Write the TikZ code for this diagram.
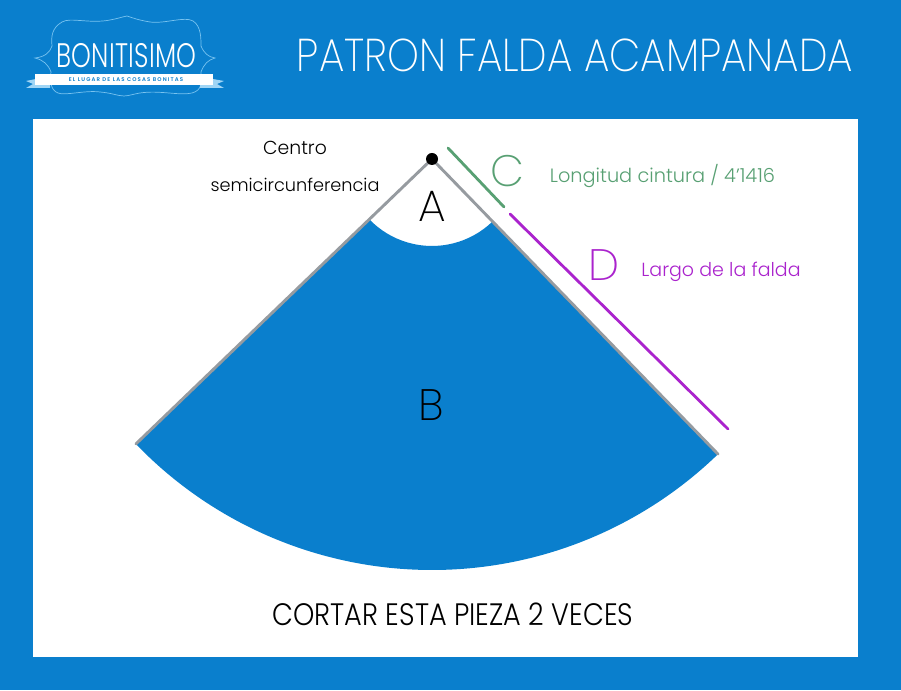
\documentclass[tikz,border=0pt]{standalone}
\usepackage{fontspec}
\usetikzlibrary{calc}
\setmainfont{Poppins Light}
\newfontfamily\thinfont{Poppins ExtraLight}
\newfontfamily\subfont{Poppins SemiBold}
\definecolor{bgblue}{RGB}{10,127,205}
\definecolor{cgreen}{RGB}{88,160,115}
\definecolor{dpurple}{RGB}{170,35,205}
\definecolor{edgegray}{RGB}{150,155,160}
\definecolor{framelt}{RGB}{120,195,240}
\tikzset{
  lbl/.style={inner sep=0pt,text=black},
  tall/.style={inner sep=0pt,xscale=#1,transform shape},
  pedge/.style={draw=edgegray,line width=2.9pt,line cap=round},
  measure/.style={line width=2.8pt,line cap=round},
}
\begin{document}
\begin{tikzpicture}[x=1pt,y=1pt]
\useasboundingbox (0,0) rectangle (901,690);
\fill[bgblue] (0,0) rectangle (901,690);
\fill[white] (33,33) rectangle (858,571);
% logo
\begin{scope}[y=-1pt,yshift=690pt]
\draw[framelt,line width=0.7pt]
  (35,58) .. controls (44,57) and (50,53) .. (52,46)
  .. controls (51,36) and (52,28) .. (62,22)
  .. controls (70,17) and (90,24) .. (110,20)
  .. controls (116,19) and (122,17) .. (127,16)
  .. controls (133,18) and (138,20) .. (150,22)
  .. controls (165,24) and (185,16) .. (193,21)
  .. controls (201,26) and (201,38) .. (201,46)
  .. controls (204,53) and (208,57) .. (215,58)
  .. controls (208,60) and (204,64) .. (201,72)
  .. controls (201,82) and (203,90) .. (192,93)
  .. controls (180,96) and (160,90) .. (140,93)
  .. controls (134,94) and (128,96) .. (124,96)
  .. controls (118,96) and (112,93) .. (100,92)
  .. controls (85,90) and (65,96) .. (58,93)
  .. controls (50,90) and (50,80) .. (51,72)
  .. controls (48,64) and (43,60) .. (35,58) -- cycle;
\fill[framelt!70!white] (26,81) -- (36,79) -- (50,79) -- (50,88) -- (26,88) -- (33,84) -- cycle;
\fill[framelt!70!white] (224,81) -- (213,79) -- (200,79) -- (200,88) -- (224,88) -- (217,84) -- cycle;
\fill[white] (35,74) rectangle (213,85);
\end{scope}
\node[tall=.74,text=white] (logotitle) at (126.5,634.5) {\fontsize{34}{34}\selectfont\addfontfeature{LetterSpace=1}BONITISIMO};
\node[lbl,text=bgblue] (logosub) at (126,610.5) {\subfont\fontsize{5.4}{6}\selectfont\addfontfeature{LetterSpace=21}EL LUGAR DE LAS COSAS BONITAS};
% title
\node[tall=.88,text=white] (title) at (575,635) {\thinfont\fontsize{46}{46}\selectfont PATRON FALDA ACAMPANADA};
% piece
\coordinate (apex) at (432,531);
\coordinate (leftend) at ($(apex)+(223.9:411)$);
\coordinate (rightend) at ($(apex)+(314.1:411)$);
\coordinate (rightin) at ($(apex)+(314.1:87)$);
\fill[bgblue] (leftend) arc[start angle=223.9,end angle=314.1,radius=411] -- (rightin)
  arc[start angle=314.1,end angle=223.9,radius=87] -- cycle;
\draw[pedge] (leftend) -- (apex) -- (rightend);
\node[circle,fill=black,minimum size=12pt,inner sep=0pt] (centre) at (apex) {};
% measures
\coordinate (c1) at (448,542); \coordinate (c2) at (504,483);
\coordinate (d1) at (510,476); \coordinate (d2) at (728,261);
\draw[cgreen,measure] (c1) -- (c2);
\draw[dpurple,measure] (d1) -- (d2);
% labels
\node[lbl] (centrolbl) at (295,542) {\fontsize{18.8}{20}\selectfont Centro};
\node[lbl] (semilbl) at (295,505) {\fontsize{17.7}{20}\selectfont semicircunferencia};
\node[lbl] (A) at (432,484) {\thinfont\fontsize{44}{44}\selectfont A};
\node[lbl] (B) at (431,285) {\thinfont\fontsize{44}{44}\selectfont B};
\node[lbl,text=cgreen] (C) at (507,519) {\thinfont\fontsize{44}{44}\selectfont C};
\node[lbl,text=dpurple] (D) at (604,425) {\thinfont\fontsize{44}{44}\selectfont D};
\node[lbl,text=cgreen] (clbl) at (662.5,514) {\fontsize{19.3}{20}\selectfont Longitud cintura / 4'1416};
\node[lbl,text=dpurple] (dlbl) at (721,418) {\fontsize{19}{20}\selectfont Largo de la falda};
\node[tall=.875,text=black] (cortar) at (453,76) {\fontsize{31}{31}\selectfont CORTAR ESTA PIEZA 2 VECES};
\end{tikzpicture}
\end{document}
